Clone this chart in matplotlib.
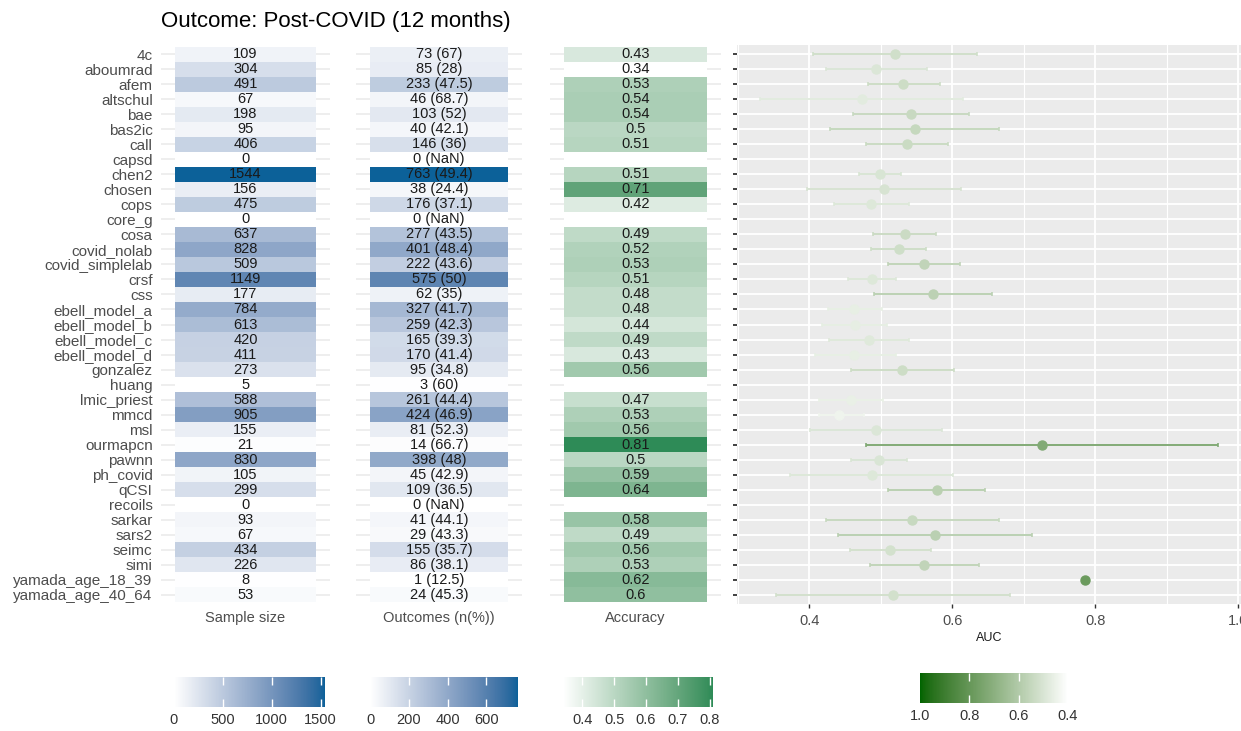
import numpy as np
import matplotlib
matplotlib.use("Agg")
import matplotlib.pyplot as plt
import matplotlib.colors as mcolors
from matplotlib.colorbar import Colorbar

plt.rcParams['font.family'] = ['Liberation Sans', 'DejaVu Sans']

nan = np.nan

# Datos
models = ['4c', 'aboumrad', 'afem', 'altschul', 'bae', 'bas2ic', 'call', 'capsd', 'chen2',
          'chosen', 'cops', 'core_g', 'cosa', 'covid_nolab', 'covid_simplelab', 'crsf', 'css',
          'ebell_model_a', 'ebell_model_b', 'ebell_model_c', 'ebell_model_d', 'gonzalez',
          'huang', 'lmic_priest', 'mmcd', 'msl', 'ourmapcn', 'pawnn', 'ph_covid', 'qCSI',
          'recoils', 'sarkar', 'sars2', 'seimc', 'simi', 'yamada_age_18_39', 'yamada_age_40_64']
sample_size = [109, 304, 491, 67, 198, 95, 406, 0, 1544, 156, 475, 0, 637, 828, 509, 1149, 177,
               784, 613, 420, 411, 273, 5, 588, 905, 155, 21, 830, 105, 299, 0, 93, 67, 434, 226,
               8, 53]
outcomes_n = [73, 85, 233, 46, 103, 40, 146, 0, 763, 38, 176, 0, 277, 401, 222, 575, 62, 327,
              259, 165, 170, 95, 3, 261, 424, 81, 14, 398, 45, 109, 0, 41, 29, 155, 86, 1, 24]
outcomes_pct = [67, 28, 47.5, 68.7, 52, 42.1, 36, nan, 49.4, 24.4, 37.1, nan, 43.5, 48.4, 43.6,
                50, 35, 41.7, 42.3, 39.3, 41.4, 34.8, 60, 44.4, 46.9, 52.3, 66.7, 48, 42.9, 36.5,
                nan, 44.1, 43.3, 35.7, 38.1, 12.5, 45.3]
accuracy = [0.43, 0.34, 0.53, 0.54, 0.54, 0.5, 0.51, nan, 0.51, 0.71, 0.42, nan, 0.49, 0.52,
            0.53, 0.51, 0.48, 0.48, 0.44, 0.49, 0.43, 0.56, nan, 0.47, 0.53, 0.56, 0.81, 0.5,
            0.59, 0.64, nan, 0.58, 0.49, 0.56, 0.53, 0.62, 0.6]
auc = [0.520, 0.493, 0.531, 0.474, 0.542, 0.548, 0.537, nan, 0.499, 0.505, 0.487, nan, 0.534,
       0.525, 0.561, 0.488, 0.573, 0.463, 0.464, 0.484, 0.463, 0.530, nan, 0.458, 0.441, 0.493,
       0.725, 0.498, 0.488, 0.579, nan, 0.544, 0.576, 0.513, 0.561, 0.786, 0.517]
auc_lo = [0.405, 0.423, 0.482, 0.331, 0.461, 0.429, 0.479, nan, 0.469, 0.397, 0.434, nan, 0.489,
          0.487, 0.510, 0.454, 0.490, 0.426, 0.418, 0.428, 0.408, 0.459, nan, 0.413, 0.414,
          0.401, 0.479, 0.459, 0.373, 0.510, nan, 0.424, 0.440, 0.457, 0.485, nan, 0.354]
auc_hi = [0.635, 0.565, 0.583, 0.615, 0.623, 0.666, 0.594, nan, 0.528, 0.613, 0.540, nan, 0.578,
          0.563, 0.611, 0.521, 0.656, 0.502, 0.509, 0.540, 0.521, 0.602, nan, 0.503, 0.477,
          0.586, 0.972, 0.537, 0.601, 0.646, nan, 0.665, 0.711, 0.570, 0.637, nan, 0.681]

W, H = 1241, 731
n = len(models)
rows = np.arange(n)
GREY = '#4D4D4D'


# gradiente en espacio Lab (como ggplot)
M = np.array([[0.4124, 0.3576, 0.1805], [0.2126, 0.7152, 0.0722], [0.0193, 0.1192, 0.9505]])
WP = np.array([0.95047, 1.0, 1.08883])


def to_lab(c):
    rgb = np.array(mcolors.to_rgb(c))
    lin = np.where(rgb <= 0.04045, rgb / 12.92, ((rgb + 0.055) / 1.055) ** 2.4)
    xyz = M @ lin / WP
    f = np.where(xyz > (6 / 29) ** 3, np.cbrt(xyz), xyz / (3 * (6 / 29) ** 2) + 4 / 29)
    return np.array([116 * f[1] - 16, 500 * (f[0] - f[1]), 200 * (f[1] - f[2])])


def lab_cmap(lo, hi, N=256):
    t = np.linspace(0, 1, N)[:, None]
    lab = to_lab(lo) * (1 - t) + to_lab(hi) * t
    fy = (lab[:, 0] + 16) / 116
    f = np.stack([fy + lab[:, 1] / 500, fy, fy - lab[:, 2] / 200], 1)
    xyz = np.where(f > 6 / 29, f ** 3, 3 * (6 / 29) ** 2 * (f - 4 / 29)) * WP
    lin = xyz @ np.linalg.inv(M).T
    lin = np.clip(lin, 0, None)
    rgb = np.where(lin <= 0.0031308, 12.92 * lin, 1.055 * lin ** (1 / 2.4) - 0.055)
    cm = mcolors.ListedColormap(np.clip(rgb, 0, 1))
    cm.set_bad('white')
    return cm


blues = lab_cmap('white', '#0C6199')
greens = lab_cmap('white', '#2E8B57')
auc_cmap = lab_cmap('white', '#006400')


def add_ax(x0, y0, x1, y1):
    return fig.add_axes([x0 / W, 1 - y1 / H, (x1 - x0) / W, (y1 - y0) / H])


def fmt_pct(v):
    return 'NaN' if np.isnan(v) else f'{v:g}'


fig = plt.figure(figsize=(W / 100, H / 100), dpi=100)

fig.text(161 / W, 1 - 22 / H, 'Outcome: Post-COVID (12 months)', fontsize=16,
         ha='left', va='center', color='black')


def heat_panel(ax, values, texts, cmap, norm, title, show_names=False):
    vals = np.ma.masked_invalid(np.array(values, dtype=float)).reshape(-1, 1)
    ax.pcolormesh([-0.5, 0.5], np.arange(n + 1) - 0.5, vals, cmap=cmap, norm=norm)
    for i, t in enumerate(texts):
        ax.text(0, i, t, ha='center', va='center', fontsize=10.5, color='#1A1A1A')
    ax.set_xlim(-0.6, 0.6)
    ax.set_ylim(n - 0.4, -0.6)
    ax.set_yticks(rows)
    ax.set_yticklabels(models if show_names else [])
    ax.set_xticks([0])
    ax.set_xticklabels([title])
    ax.tick_params(length=0, labelsize=10.5, labelcolor=GREY)
    ax.tick_params(axis='y', pad=6, labelsize=11)
    ax.tick_params(axis='x', pad=5)
    ax.grid(axis='y', color='#EBEBEB', lw=1.2)
    ax.set_axisbelow(True)
    for s in ax.spines.values():
        s.set_visible(False)


norm_ss = mcolors.Normalize(np.nanmin(sample_size), np.nanmax(sample_size))
norm_out = mcolors.Normalize(np.nanmin(outcomes_n), np.nanmax(outcomes_n))
norm_acc = mcolors.Normalize(np.nanmin(accuracy), np.nanmax(accuracy))
norm_auc = mcolors.Normalize(0.4, 1.0)

ax1 = add_ax(161, 45, 330, 604)
heat_panel(ax1, sample_size, [str(v) for v in sample_size], blues, norm_ss, 'Sample size',
           show_names=True)

ax2 = add_ax(356, 45, 522, 604)
heat_panel(ax2, outcomes_n, [f'{a} ({fmt_pct(p)})' for a, p in zip(outcomes_n, outcomes_pct)],
           blues, norm_out, 'Outcomes (n(%))')

ax3 = add_ax(550, 45, 721, 604)
heat_panel(ax3, accuracy, ['' if np.isnan(a) else f'{a:g}' for a in accuracy],
           greens, norm_acc, 'Accuracy')

# --- Forest plot AUC ---
ax4 = add_ax(737, 45, 1241, 604)
ax4.set_facecolor('#EBEBEB')
for i in rows:
    a = auc[i]
    if np.isnan(a):
        continue
    c = auc_cmap(norm_auc(a))
    if np.isnan(auc_lo[i]):
        ax4.plot(a, i, 'o', color=c, ms=6.5, zorder=3)
    else:
        ax4.errorbar(a, i, xerr=[[a - auc_lo[i]], [auc_hi[i] - a]], fmt='o', color=c,
                     ms=6.5, elinewidth=1.4, capsize=1.5, capthick=1.2, zorder=3)
lo_min = np.nanmin(auc_lo)
hi_max = np.nanmax(auc_hi)
pad = 0.05 * (hi_max - lo_min)
ax4.set_xlim(lo_min - pad, hi_max + pad)
ax4.set_ylim(n - 0.4, -0.6)
ax4.set_yticks(rows)
ax4.set_yticklabels([])
ax4.set_xticks([0.4, 0.6, 0.8, 1.0])
ax4.set_xticks([0.3, 0.5, 0.7, 0.9], minor=True)
ax4.tick_params(axis='y', length=3, width=1.3, color='#333333')
ax4.tick_params(axis='x', which='major', length=3, width=1, color='#333333',
                labelsize=10.5, labelcolor=GREY, pad=4)
ax4.tick_params(axis='x', which='minor', length=0)
ax4.grid(which='major', color='white', lw=1.3)
ax4.grid(which='minor', axis='x', color='white', lw=0.8)
ax4.set_axisbelow(True)
for s in ax4.spines.values():
    s.set_visible(False)
ax4.set_xlabel('AUC', fontsize=9, color='#1A1A1A', labelpad=3)


# --- Leyendas ---
def colorbar(x0, y0, x1, y1, cmap, norm, ticks, fmt, reverse=False):
    cax = add_ax(x0, y0, x1, y1)
    cb = Colorbar(cax, cmap=cmap, norm=norm, orientation='horizontal')
    cb.outline.set_visible(False)
    cb.set_ticks(ticks)
    cb.set_ticklabels([fmt(t) for t in ticks])
    cax.tick_params(axis='x', direction='in', length=6, width=1, color='white',
                    top=True, bottom=True, labelsize=10.5, labelcolor='#333333', pad=4)
    # sin marca blanca en los extremos de la barra
    lo, hi = norm.vmin, norm.vmax
    for tk, v in zip(cax.xaxis.get_major_ticks(), ticks):
        if abs(v - lo) < 1e-9 or abs(v - hi) < 1e-9:
            tk.tick1line.set_visible(False)
            tk.tick2line.set_visible(False)
    if reverse:
        cax.invert_xaxis()
    return cb


colorbar(174, 677, 325, 707, blues, norm_ss, [0, 500, 1000, 1500], str)
colorbar(370, 677, 518, 707, blues, norm_out, [0, 200, 400, 600], str)
colorbar(563, 677, 713, 707, greens, norm_acc, [0.4, 0.5, 0.6, 0.7, 0.8], lambda t: f'{t:.1f}')
colorbar(920, 673, 1068, 703, auc_cmap, norm_auc, [1.0, 0.8, 0.6, 0.4], lambda t: f'{t:.1f}',
         reverse=True)

fig.savefig('out.png', dpi=100)
